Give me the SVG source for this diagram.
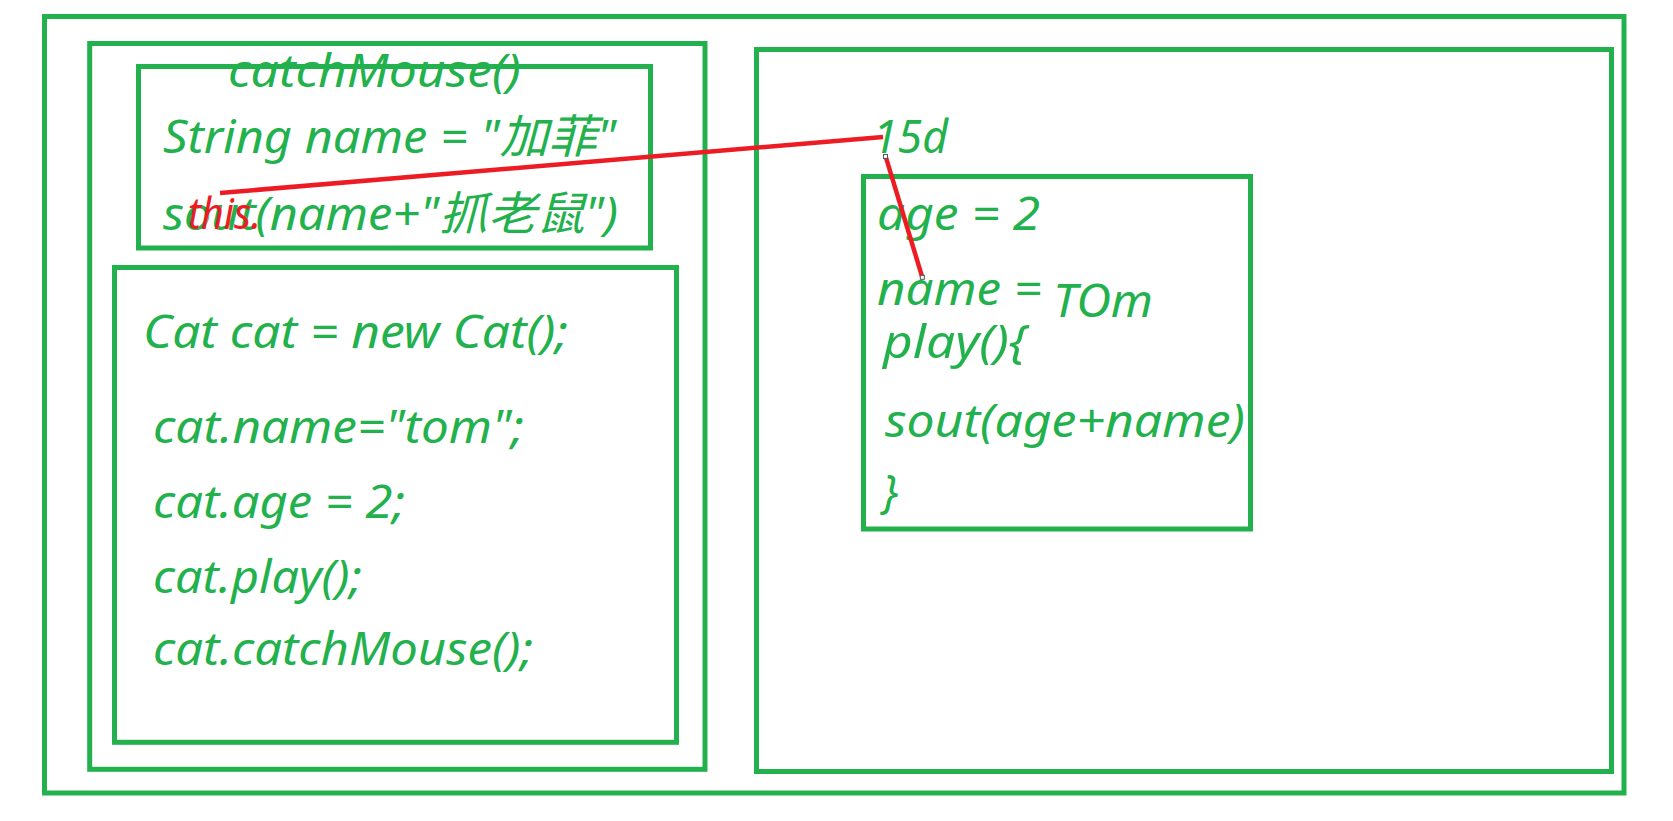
<svg xmlns="http://www.w3.org/2000/svg" width="1673" height="821" viewBox="0 0 1673 821">
<style>
.box{fill:none;stroke:#22b14c;stroke-width:5}
.t{fill:#22b14c;font-family:"Noto Sans","Noto Sans CJK SC",sans-serif;font-style:italic;font-size:46px}
.r{fill:#ed1c24;font-family:"Noto Sans",sans-serif;font-style:italic;font-size:44px}
.ln{stroke:#ed1c24;stroke-width:4.5;fill:none}
.h{fill:#fff;stroke:#555;stroke-width:1}
</style>
<rect width="1673" height="821" fill="#fff"/>
<g id="memory">
<rect class="box" x="44.5" y="16.5" width="1579.5" height="776.5"/>
</g>
<g id="stack">
<rect class="box" x="89.7" y="43.5" width="615.3" height="725.8"/>
</g>
<g id="catchMouse-frame">
<rect class="box" x="138.5" y="66.5" width="512" height="181.5"/>
<text class="t" x="228" y="87" textLength="293" lengthAdjust="spacingAndGlyphs">catchMouse()</text>
<text class="t" x="163" y="153" textLength="453" lengthAdjust="spacingAndGlyphs">String name = "加菲"</text>
<text class="t" x="163" y="230" textLength="455" lengthAdjust="spacingAndGlyphs">sout(name+"抓老鼠")</text>
</g>
<g id="main-frame">
<rect class="box" x="114.5" y="267.5" width="562" height="474.8"/>
<text class="t" x="143" y="348" textLength="425" lengthAdjust="spacingAndGlyphs">Cat cat = new Cat();</text>
<text class="t" x="153" y="443" textLength="371" lengthAdjust="spacingAndGlyphs">cat.name="tom";</text>
<text class="t" x="153" y="518" textLength="252" lengthAdjust="spacingAndGlyphs">cat.age = 2;</text>
<text class="t" x="153" y="593" textLength="209" lengthAdjust="spacingAndGlyphs">cat.play();</text>
<text class="t" x="153" y="665" textLength="380" lengthAdjust="spacingAndGlyphs">cat.catchMouse();</text>
</g>
<g id="heap">
<rect class="box" x="756.5" y="49.5" width="855" height="722"/>
<text class="t" x="873" y="153" textLength="75" lengthAdjust="spacingAndGlyphs">15d</text>
</g>
<g id="cat-object">
<rect class="box" x="863.5" y="176.5" width="387" height="352.5"/>
<text class="t" x="877" y="230" textLength="163" lengthAdjust="spacingAndGlyphs">age = 2</text>
<text class="t" x="877" y="305" textLength="165" lengthAdjust="spacingAndGlyphs">name =</text>
<text class="t" x="1053" y="317" textLength="100" lengthAdjust="spacingAndGlyphs">TOm</text>
<text class="t" x="883" y="358" textLength="144" lengthAdjust="spacingAndGlyphs">play(){</text>
<text class="t" x="885" y="437" textLength="360" lengthAdjust="spacingAndGlyphs">sout(age+name)</text>
<text class="t" x="882" y="508">}</text>
</g>
<g id="connectors">
<line class="ln" x1="220" y1="193" x2="883" y2="137"/>
<line class="ln" x1="885.7" y1="156.7" x2="922.3" y2="277.3"/>
<rect class="h" x="883.5" y="154.5" width="4" height="4"/>
<rect class="h" x="920.3" y="275.3" width="4" height="4"/>
<text class="r" x="188" y="229" textLength="73" lengthAdjust="spacingAndGlyphs">this.</text>
</g>
</svg>
